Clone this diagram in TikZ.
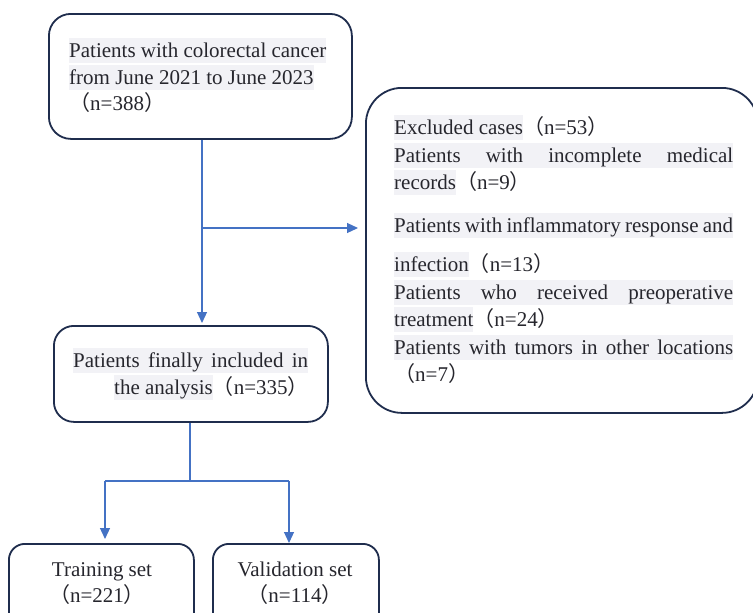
\documentclass[tikz,border=0pt]{standalone}
\usepackage{fontspec}
\setmainfont{Liberation Serif}
\newfontfamily\cjk{Noto Sans CJK SC}
\usetikzlibrary{arrows.meta}
\definecolor{navy}{RGB}{31,45,77}
\definecolor{arrblue}{RGB}{68,114,196}
\definecolor{hl}{RGB}{242,242,246}
\definecolor{txt}{RGB}{38,38,45}
\newcommand\fwl{{\cjk （}}
\newcommand\fwr{{\cjk ）}}
\newcommand\hlt[1]{{\setlength\fboxsep{0pt}\colorbox{hl}{\rule[-6pt]{0pt}{25pt}#1}}}
\begin{document}
\begin{tikzpicture}[x=1pt,y=-1pt,
 box/.style={draw=navy, line width=1.8pt, anchor=north west, inner sep=0pt},
 ln/.style={font=\fontsize{21}{28}\selectfont, text=txt, anchor=base west, inner sep=0pt},
 lc/.style={font=\fontsize{21}{28}\selectfont, text=txt, anchor=base, inner sep=0pt},
 arr/.style={draw=arrblue, line width=1.2pt, -{Triangle[length=11pt,width=10pt]}},
 con/.style={draw=arrblue, line width=1.2pt}]
\useasboundingbox (0,0) rectangle (753,613);
\clip (0,0) rectangle (753,613);
\fill[white] (0,0) rectangle (753,613);
% boxes
\node[box, rounded corners=22pt, minimum width=303pt, minimum height=125pt] (src) at (48,13) {};
\node[box, rounded corners=36pt, minimum width=392pt, minimum height=325pt] (excl) at (365,87) {};
\node[box, rounded corners=20pt, minimum width=274pt, minimum height=96pt] (incl) at (53,325) {};
\node[box, rounded corners=16pt, minimum width=185pt, minimum height=90pt] (train) at (8,543) {};
\node[box, rounded corners=16pt, minimum width=166pt, minimum height=90pt] (valid) at (212,543) {};
% source text
\node[ln] (s1) at (69,57) {\hlt{Patients with colorectal cancer}};
\node[ln] (s2) at (69,84) {\hlt{from June 2021 to June 2023}};
\node[ln] (s3) at (69,110) {\fwl n=388\fwr};
% excluded text
\node[ln] (e1) at (394,134) {\hlt{Excluded cases}\fwl n=53\fwr};
\node[ln] (e2) at (394,162) {\hlt{\makebox[339pt][s]{Patients with incomplete medical}}};
\node[ln] (e3) at (394,189) {\hlt{records}\fwl n=9\fwr};
\node[ln] (e4) at (394,232) {\hlt{\makebox[339pt][s]{Patients with inflammatory response and}}};
\node[ln] (e5) at (394,271) {\hlt{infection}\fwl n=13\fwr};
\node[ln] (e6) at (394,299) {\hlt{\makebox[339pt][s]{Patients who received preoperative}}};
\node[ln] (e7) at (394,326) {\hlt{treatment}\fwl n=24\fwr};
\node[ln] (e8) at (394,354) {\hlt{\makebox[339pt][s]{Patients with tumors in other locations}}};
\node[ln] (e9) at (394,381) {\fwl n=7\fwr};
% included text
\node[ln] (i1) at (73,367) {\hlt{\makebox[235pt][s]{Patients finally included in}}};
\node[ln] (i2) at (114,394) {\hlt{the analysis}\fwl n=335\fwr};
% sets text
\node[lc] (t1) at (102,576) {Training set};
\node[lc] (t2) at (97,602) {\fwl n=221\fwr};
\node[lc] (v1) at (295,576) {Validation set};
\node[lc] (v2) at (295,602) {\fwl n=114\fwr};
% connectors
\coordinate (j1) at (202,228);
\draw[arr, shorten >=2pt] (src.south -| j1) -- (incl.north -| j1);
\draw[arr, shorten >=7pt] (j1) -- (excl.west |- j1);
\coordinate (j2) at (190,481);
\coordinate (jt) at (105,481);
\coordinate (jv) at (289,481);
\draw[con] (incl.south -| j2) -- (j2);
\draw[con] (jt) -- (jv);
\draw[arr, shorten >=4pt] (jt) -- (jt |- train.north);
\draw[arr] (jv) -- (jv |- valid.north);
\end{tikzpicture}
\end{document}
